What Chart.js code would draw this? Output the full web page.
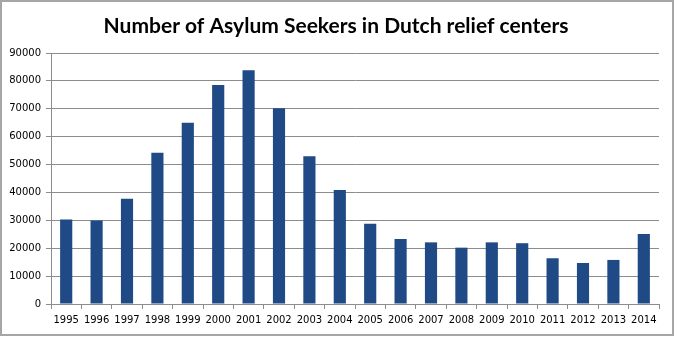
<!DOCTYPE html>
<html>
<head>
<meta charset="utf-8">
<script src="https://cdn.jsdelivr.net/npm/chart.js@4"></script>
<style>
  html, body { margin: 0; padding: 0; background: #fff; }
  #wrap { position: relative; width: 680px; height: 342px; }
</style>
</head>
<body>
<div id="wrap"><canvas id="chart" width="680" height="342"></canvas></div>
<script>
// Data
const chartTitle = 'Number of Asylum Seekers in Dutch relief centers';
const years = ['1995', '1996', '1997', '1998', '1999', '2000', '2001', '2002', '2003', '2004',
               '2005', '2006', '2007', '2008', '2009', '2010', '2011', '2012', '2013', '2014'];
const seekers = [30300, 29900, 37700, 54200, 65000, 78500, 83800, 70200, 53000, 40900,
                 28800, 23300, 22100, 20200, 22100, 21800, 16400, 14700, 15800, 25100];
const yTicks = [0, 10000, 20000, 30000, 40000, 50000, 60000, 70000, 80000, 90000];

const gridGrey = '#8c8c8c';

// outer frame + title, drawn like the spreadsheet chart
const framePlugin = {
    id: 'frame',
    beforeDraw(chart) {
        const c = chart.ctx;
        c.save();
        c.fillStyle = '#fff';
        c.fillRect(0, 0, chart.width, chart.height);
        c.strokeStyle = '#a6a6a6';
        c.lineWidth = 2;
        c.strokeRect(1, 1, 672, 334);
        c.restore();
    },
    afterDraw(chart) {
        const c = chart.ctx;
        c.save();
        c.fillStyle = '#000';
        c.font = 'bold 21px Lato';
        c.textAlign = 'center';
        c.textBaseline = 'middle';
        c.fillText(chartTitle, 336, 26);
        c.restore();
    }
};

new Chart(document.getElementById('chart'), {
    type: 'bar',
    data: {
        labels: years,
        datasets: [{
            label: 'Asylum seekers',
            data: seekers,
            backgroundColor: '#1f4a85',
            categoryPercentage: 1,
            barPercentage: 0.4
        }]
    },
    options: {
        responsive: false,
        animation: false,
        layout: { padding: { left: 0, right: 21, top: 53, bottom: 0 } },
        plugins: {
            legend: { display: false },
            tooltip: { enabled: false },
            title: { display: false }
        },
        scales: {
            x: {
                grid: { drawOnChartArea: false, drawTicks: true, tickLength: 5, offset: true, color: gridGrey },
                border: { display: true, color: gridGrey },
                ticks: { color: '#000', font: { family: 'DejaVu Sans', size: 10 }, padding: 5, maxRotation: 0, autoSkip: false },
                afterFit(scale) { scale.height = 38; }
            },
            y: {
                min: 0,
                max: 90000,
                afterBuildTicks(scale) { scale.ticks = yTicks.map(v => ({ value: v })); },
                grid: { color: gridGrey, tickLength: 5 },
                border: { display: true, color: gridGrey },
                ticks: {
                    color: '#000',
                    font: { family: 'DejaVu Sans', size: 10 },
                    padding: 5,
                    callback: v => String(v)
                },
                afterFit(scale) { scale.width = 51; }
            }
        }
    },
    plugins: [framePlugin]
});
</script>
</body>
</html>
